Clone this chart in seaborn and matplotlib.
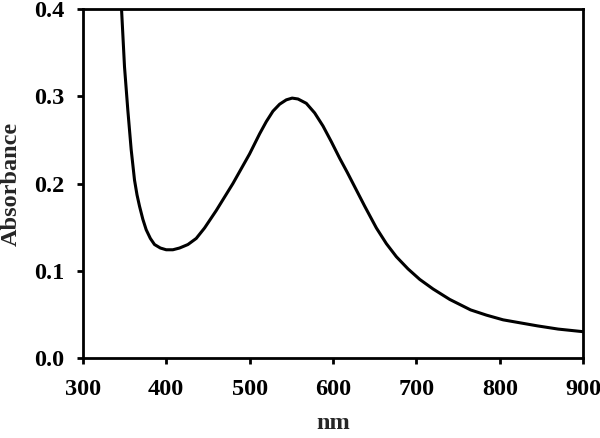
import pandas as pd
import seaborn as sns
import matplotlib.pyplot as plt

# Absorbance spectrum
wavelength = [343, 346.5, 350, 354, 358, 362, 365, 368, 372, 376, 381, 386, 393, 400, 408,
              416, 426, 436, 446, 460, 480, 500, 512, 520, 528, 536, 544, 551, 558, 568,
              578, 588, 598, 608, 617, 624, 638, 652, 664, 676, 690, 704, 720, 740, 765,
              784, 804, 845, 870, 900]
absorbance = [0.45, 0.399, 0.334, 0.284, 0.239, 0.204, 0.187, 0.174, 0.159, 0.147, 0.137,
              0.130, 0.126, 0.124, 0.124, 0.126, 0.130, 0.137, 0.149, 0.169, 0.200, 0.234,
              0.257, 0.271, 0.283, 0.291, 0.296, 0.298, 0.297, 0.292, 0.281, 0.266, 0.248,
              0.229, 0.213, 0.200, 0.174, 0.149, 0.131, 0.116, 0.102, 0.090, 0.079, 0.067,
              0.055, 0.049, 0.0436, 0.0367, 0.033, 0.030]
x_ticks = [300, 400, 500, 600, 700, 800, 900]
y_ticks = [0.0, 0.1, 0.2, 0.3, 0.4]

df = pd.DataFrame({'nm': wavelength, 'Absorbance': absorbance})

sns.set_style('white')
plt.rcParams['font.family'] = ['Liberation Serif', 'DejaVu Serif']
plt.rcParams['font.weight'] = 'bold'

fig = plt.figure(figsize=(6, 4.38), dpi=100)
ax = fig.add_axes([0.138, 0.183, 0.834, 0.796])

sns.lineplot(data=df, x='nm', y='Absorbance', color='black', linewidth=2.2, ax=ax, sort=False)
ax.lines[0].set_solid_joinstyle('round')

ax.set_xlim(300, 900)
ax.set_ylim(0, 0.4)
ax.set_xticks(x_ticks)
ax.set_yticks(y_ticks)
ax.set_xticklabels([str(t) for t in x_ticks], fontsize=17.5, fontweight='bold')
ax.set_yticklabels([f'{t:.1f}' for t in y_ticks], fontsize=17.5, fontweight='bold')
ax.tick_params(axis='both', direction='out', length=4, width=2, colors='black',
               bottom=True, left=True)
ax.tick_params(axis='x', pad=11)
ax.tick_params(axis='y', pad=9)
ax.set_xlabel('nm', fontsize=17.5, fontweight='bold')
ax.set_ylabel('Absorbance', fontsize=17.5, fontweight='bold')
ax.xaxis.set_label_coords(0.5, -0.158)
ax.yaxis.set_label_coords(-0.121, 0.5)

for side in ax.spines.values():
    side.set_visible(True)
    side.set_color('black')
    side.set_linewidth(2)

fig.savefig('out.png', dpi=100)
